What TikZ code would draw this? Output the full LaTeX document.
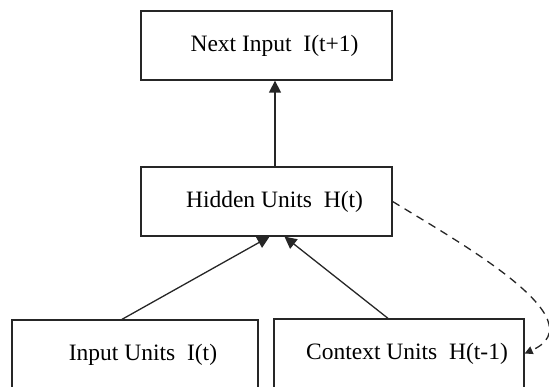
\documentclass[tikz,border=0pt]{standalone}
\usepackage{fontspec}
\setmainfont{Liberation Serif}
\usetikzlibrary{arrows.meta}

\begin{document}
\begin{tikzpicture}[x=1pt, y=1pt, >={Triangle[length=12pt, width=12pt]},
  unitbox/.style={draw=black!85, line width=1.3pt, minimum width=251pt, minimum height=69pt,
    font=\fontsize{23.5}{28}\selectfont, execute at begin node=\hspace*{16pt}},
  link/.style={black!85, line width=1.3pt}]
  \clip (0,0) rectangle (549,387);
  % layers
  \node[unitbox] (next) at (266.5,341.5) {Next Input\enspace I(t+1)};
  \node[unitbox] (hidden) at (266.5,185.5) {Hidden Units\enspace H(t)};
  \node[unitbox, minimum width=246pt] (input) at (135,32.5) {Input Units\enspace I(t)};
  \node[unitbox, minimum width=250pt] (context) at (399,33.5) {Context Units\enspace H(t-1)};
  % weights
  \draw[link, ->] ([xshift=8.5pt]hidden.north) -- ([xshift=8.5pt]next.south);
  \draw[link, ->] ([xshift=-13pt]input.north) -- ([xshift=3pt]hidden.south);
  \draw[link, ->] ([xshift=-11pt]context.north) -- ([xshift=18pt]hidden.south);
  % copy back
  \draw[link, dash pattern=on 8pt off 6pt, -{Triangle[length=8pt, width=8pt]}]
    (hidden.east) .. controls (455,147) and (600,67) .. (context.east);
\end{tikzpicture}
\end{document}
